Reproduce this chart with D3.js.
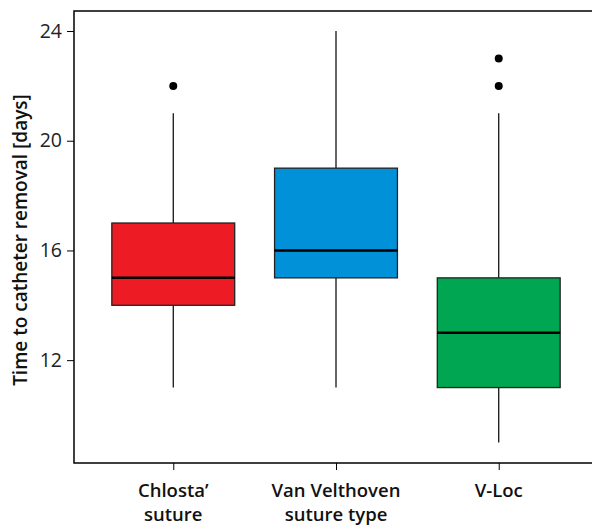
<!DOCTYPE html>
<html><head><meta charset="utf-8">
<script src="https://cdn.jsdelivr.net/npm/d3@7"></script>
<style>body{margin:0;background:#fff}svg{display:block}</style>
</head><body>
<svg id="c" width="592" height="527"></svg>
<script>
const categories = ["Chlosta’\nsuture", "Van Velthoven\nsuture type", "V-Loc"];
const q1 = [14, 15, 11];
const median = [15, 16, 13];
const q3 = [17, 19, 15];
const whiskerLow = [11, 11, 9];
const whiskerHigh = [21, 24, 21];
const outliers = [[22], [], [22, 23]];
const colors = ["#ED1C24", "#0091D9", "#00A651"];
const yTicks = [12, 16, 20, 24];

const svg = d3.select("#c");
const mLeft = 74, mTop = 11, mBottom = 463, mRight = 598;
const x = d3.scalePoint().domain(categories).range([mLeft, mRight]).padding(0.61);
const y = d3.scaleLinear().domain([8.25, 24.73]).range([mBottom, mTop]);
const bw = x.step() * 0.755;
const font = "'Open Sans', 'Noto Sans', sans-serif";

// frame
svg.append("rect").attr("x", mLeft).attr("y", mTop).attr("width", mRight - mLeft).attr("height", mBottom - mTop)
  .attr("fill", "none").attr("stroke", "#000").attr("stroke-width", 1.5);

// y axis
const ya = svg.append("g").attr("transform", `translate(${mLeft},0)`)
  .call(d3.axisLeft(y).tickValues(yTicks).tickSize(7).tickPadding(5));
ya.select(".domain").remove();
ya.attr("font-size", null).attr("font-family", null);
ya.selectAll("text").style("font-family", font).style("font-size", "19.5px").attr("fill", "#222");
ya.selectAll("line").attr("stroke", "#000");

// x axis
const xa = svg.append("g").attr("transform", `translate(0,${mBottom})`)
  .call(d3.axisBottom(x).tickSize(7).tickFormat(""));
xa.select(".domain").remove();
xa.selectAll("line").attr("stroke", "#000");
categories.forEach(c => {
  const lines = c.split("\n");
  const t = svg.append("text").attr("x", x(c)).attr("y", 497).attr("text-anchor", "middle")
    .attr("font-family", font).attr("font-size", 18.5).attr("font-weight", 600).attr("fill", "#111");
  lines.forEach((l, i) => t.append("tspan").attr("x", x(c)).attr("dy", i ? 24 : 0).text(l));
});

// y title
svg.append("text").attr("transform", `translate(27,240) rotate(-90)`)
  .attr("text-anchor", "middle").attr("font-family", font).attr("font-size", 19).attr("font-weight", 600)
  .attr("fill", "#111").text("Time to catheter removal [days]");

// boxes
categories.forEach((c, i) => {
  const cx = x(c);
  const g = svg.append("g");
  g.append("line").attr("x1", cx).attr("x2", cx).attr("y1", y(whiskerLow[i])).attr("y2", y(q1[i]))
    .attr("stroke", "#000").attr("stroke-width", 1.2);
  g.append("line").attr("x1", cx).attr("x2", cx).attr("y1", y(q3[i])).attr("y2", y(whiskerHigh[i]))
    .attr("stroke", "#000").attr("stroke-width", 1.2);
  g.append("rect").attr("x", cx - bw / 2).attr("width", bw).attr("y", y(q3[i])).attr("height", y(q1[i]) - y(q3[i]))
    .attr("fill", colors[i]).attr("stroke", "#222").attr("stroke-width", 1.3);
  g.append("line").attr("x1", cx - bw / 2).attr("x2", cx + bw / 2).attr("y1", y(median[i])).attr("y2", y(median[i]))
    .attr("stroke", "#000").attr("stroke-width", 2.5);
  outliers[i].forEach(o => g.append("circle").attr("cx", cx).attr("cy", y(o)).attr("r", 4).attr("fill", "#000"));
});
</script>
</body></html>
